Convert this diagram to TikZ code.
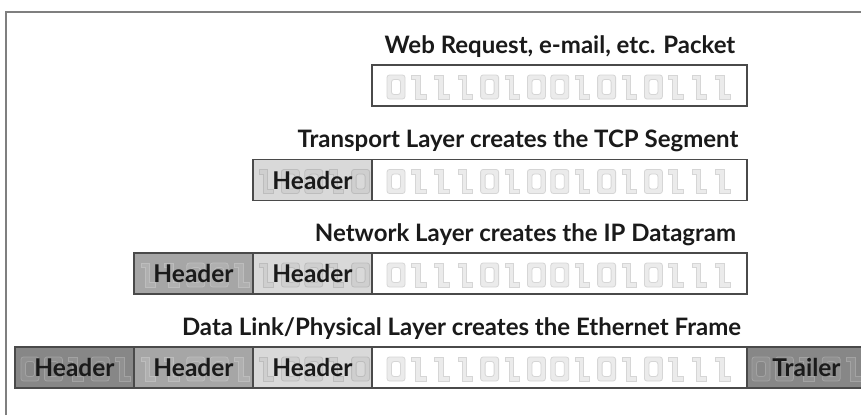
\documentclass[tikz,border=0pt]{standalone}
\usepackage{fontspec}
\setmainfont{Lato}

\definecolor{ink}{HTML}{1A1A1A}
\definecolor{framecol}{HTML}{7F7F7F}
\definecolor{edge}{HTML}{4A4A4A}
\definecolor{lightfill}{HTML}{D9D9D9}
\definecolor{midfill}{HTML}{A6A6A6}
\definecolor{darkfill}{HTML}{878787}

\tikzset{
  cell/.style={draw=edge, line width=1.2pt, anchor=north west,
    minimum height=41pt, inner sep=0pt, outer sep=0pt},
  hcell/.style={cell, minimum width=119pt},
  dcell/.style={cell, minimum width=375pt, fill=white},
  rowtitle/.style={font=\bfseries\fontsize{24}{28}\selectfont, text=ink,
    anchor=base, inner sep=0pt},
  hdrtext/.style={font=\bfseries\fontsize{24.5}{28}\selectfont, text=ink,
    anchor=base, inner sep=0pt, yshift=-9pt},
  glyph/.style={draw=black!16, fill=black!8, line width=0.8pt, even odd rule},
  % hollow binary digits: 0 and 1
  pics/bit/.style={code={%
    \ifnum#1=0
      \path[glyph, rounded corners=2.5pt] (0,0) rectangle (18,24)
        (4.5,4.5) rectangle (13.5,19.5);
    \else
      \path[glyph] (1,0) -- (9.5,0) -- (9.5,19.5) -- (15.5,19.5) -- (15.5,24)
        -- (5,24) -- (5,4.5) -- (1,4.5) -- cycle;
    \fi}},
}

% a run of digits starting at (x, top)
\newcommand\bitrow[3]{%
  \foreach \b [count=\i from 0] in {#3} {\pic at ({#1+\i*23.4},#2) {bit=\b};}}

\begin{document}
\begin{tikzpicture}[x=1pt, y=-1pt]
\useasboundingbox (0,0) rectangle (861,415);
\fill[white] (0,0) rectangle (861,415);

% outer frame
\draw[framecol, line width=2pt] (6,415) -- (6,12) -- (861,12);

\begin{scope}
\clip (0,0) rectangle (861,415);

% ---- application data
\node[rowtitle] (t1) at (560,53) {Web Request, e-mail, etc. Packet};
\node[dcell] (d1) at (372,65) {};
\bitrow{387}{75}{0,1,1,1,0,1,0,0,1,0,1,0,1,1,1}

% ---- TCP segment
\node[rowtitle] (t2) at (518,147.5) {Transport Layer creates the TCP Segment};
\node[hcell, fill=lightfill] (h2) at (253,159.5) {};
\node[dcell] (d2) at (372,159.5) {};
\begin{scope}[glyph/.style={draw=black!26, fill=black!19, line width=0.8pt, even odd rule}]
  \bitrow{258}{169.5}{1,0,0,1,0}
\end{scope}
\bitrow{387}{169.5}{0,1,1,1,0,1,0,0,1,0,1,0,1,1,1}
\node[hdrtext] (h2t) at (h2.center) {Header};

% ---- IP datagram
\node[rowtitle] (t3) at (525.5,241) {Network Layer creates the IP Datagram};
\node[hcell, fill=midfill] (ip3) at (134,253) {};
\node[hcell, fill=lightfill] (h3) at (253,253) {};
\node[dcell] (d3) at (372,253) {};
\begin{scope}[glyph/.style={draw=black!26, fill=black!31, line width=0.8pt, even odd rule}]
  \bitrow{140}{263}{1,1,0,0,1}
\end{scope}
\begin{scope}[glyph/.style={draw=black!26, fill=black!19, line width=0.8pt, even odd rule}]
  \bitrow{258}{263}{1,0,0,1,0}
\end{scope}
\bitrow{387}{263}{0,1,1,1,0,1,0,0,1,0,1,0,1,1,1}
\node[hdrtext] (ip3t) at (ip3.center) {Header};
\node[hdrtext] (h3t) at (h3.center) {Header};

% ---- Ethernet frame
\node[rowtitle] (t4) at (461.5,335) {Data Link/Physical Layer creates the Ethernet Frame};
\node[hcell, fill=darkfill] (eth4) at (15,347) {};
\node[hcell, fill=midfill] (ip4) at (134,347) {};
\node[hcell, fill=lightfill] (h4) at (253,347) {};
\node[dcell] (d4) at (372,347) {};
\node[hcell, fill=darkfill] (tr4) at (747,347) {};
\begin{scope}[glyph/.style={draw=black!36, fill=black!43, line width=0.8pt, even odd rule}]
  \bitrow{21}{357}{0,0,1,0,1}
  \bitrow{752}{357}{0,0,1,0,1}
\end{scope}
\begin{scope}[glyph/.style={draw=black!26, fill=black!31, line width=0.8pt, even odd rule}]
  \bitrow{140}{357}{1,1,0,0,1}
\end{scope}
\begin{scope}[glyph/.style={draw=black!26, fill=black!19, line width=0.8pt, even odd rule}]
  \bitrow{258}{357}{1,0,0,1,0}
\end{scope}
\bitrow{387}{357}{0,1,1,1,0,1,0,0,1,0,1,0,1,1,1}
\node[hdrtext] (eth4t) at (eth4.center) {Header};
\node[hdrtext] (ip4t) at (ip4.center) {Header};
\node[hdrtext] (h4t) at (h4.center) {Header};
\node[hdrtext] (tr4t) at (tr4.center) {Trailer};
\end{scope}
\end{tikzpicture}
\end{document}
